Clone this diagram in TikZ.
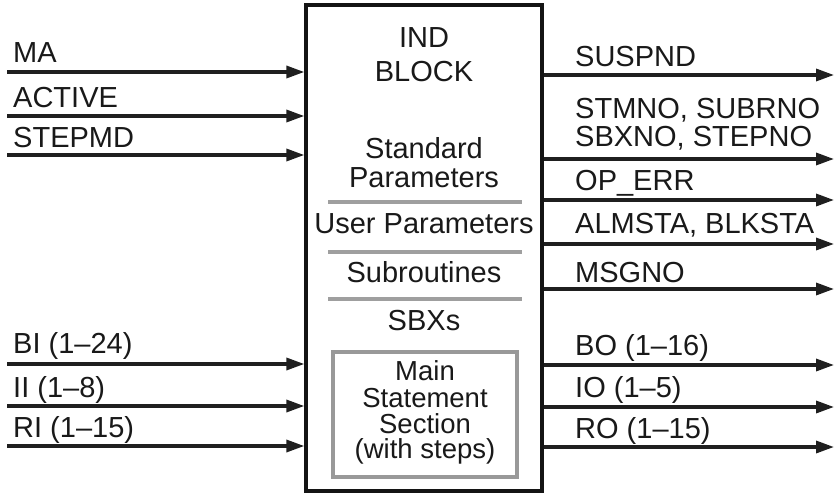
\documentclass[tikz,border=0pt]{standalone}
\usepackage{fontspec}
\setmainfont{Liberation Sans}
\usetikzlibrary{arrows.meta}
\begin{document}
\begin{tikzpicture}[x=1pt,y=-1pt,
  txt/.style={font=\fontsize{29}{31}\selectfont, inner sep=0pt, text=black!90},
  lbl/.style={txt, anchor=base west},
  ctr/.style={txt, anchor=base},
  stack/.style={ctr, font=\fontsize{27.5}{29}\selectfont},
  arr/.style={line width=3.3pt, draw=black!88, -{Triangle[length=18pt,width=12pt]}},
  divider/.style={line width=3.5pt, draw=gray!75},
  blockbox/.style={draw=black!92, line width=3.3pt, minimum width=236pt, minimum height=486pt, inner sep=0pt},
  innerbox/.style={draw=gray!80, line width=4pt, minimum width=184pt, minimum height=125pt, inner sep=0pt}]
\useasboundingbox (0,0) rectangle (834,497);
\fill[white] (0,0) rectangle (834,497);
% main block
\node[blockbox] (blk) at (424,248) {};
\node[innerbox] (inner) at (425,414.5) {};
% block texts
\node[ctr] (t1) at (424,48) {IND};
\node[ctr] (t2) at (424,82) {BLOCK};
\node[ctr] (t3) at (424,159) {Standard};
\node[ctr] (t4) at (424,187) {Parameters};
\node[ctr] (t5) at (424,233) {User Parameters};
\node[ctr] (t6) at (424,282) {Subroutines};
\node[ctr] (t7) at (424,330) {SBXs};
\node[stack] (t8) at (425,380) {Main};
\node[stack] (t9) at (425,407) {Statement};
\node[stack] (t10) at (425,433) {Section};
\node[stack] (t11) at (425,458) {(with steps)};
% dividers
\coordinate (d1a) at (328,202); \coordinate (d1b) at (522,202);
\coordinate (d2a) at (328,252); \coordinate (d2b) at (522,252);
\coordinate (d3a) at (328,299); \coordinate (d3b) at (522,299);
\draw[divider] (d1a) -- (d1b);
\draw[divider] (d2a) -- (d2b);
\draw[divider] (d3a) -- (d3b);
% input labels
\node[lbl] (ma) at (13,63) {MA};
\node[lbl] (active) at (13,108) {ACTIVE};
\node[lbl] (stepmd) at (13,148) {STEPMD};
\node[lbl] (bi) at (13,353) {BI (1–24)};
\node[lbl] (ii) at (13,397) {II (1–8)};
\node[lbl] (ri) at (13,437) {RI (1–15)};
% input arrows
\coordinate (ima) at (7,72);
\coordinate (iact) at (7,116);
\coordinate (istep) at (7,155);
\coordinate (ibi) at (7,364);
\coordinate (iii) at (7,406);
\coordinate (iri) at (7,446);
\foreach \c in {ima,iact,istep,ibi,iii,iri}
  \draw[arr] (\c) -- (\c -| blk.west);
% output labels
\node[lbl] (suspnd) at (575,67) {SUSPND};
\node[lbl] (stmno) at (575,119) {STMNO, SUBRNO};
\node[lbl] (sbxno) at (575,147) {SBXNO, STEPNO};
\node[lbl] (operr) at (575,190) {OP\_ERR};
\node[lbl] (almsta) at (575,233) {ALMSTA, BLKSTA};
\node[lbl] (msgno) at (575,282) {MSGNO};
\node[lbl] (bo) at (575,355) {BO (1–16)};
\node[lbl] (io) at (575,397) {IO (1–5)};
\node[lbl] (ro) at (575,438) {RO (1–15)};
% output arrows
\coordinate (osus) at (834,75);
\coordinate (ostm) at (834,159);
\coordinate (oop) at (834,200);
\coordinate (oalm) at (834,244);
\coordinate (omsg) at (834,289);
\coordinate (obo) at (834,365);
\coordinate (oio) at (834,407);
\coordinate (oro) at (834,447);
\foreach \c in {osus,ostm,oop,oalm,omsg,obo,oio,oro}
  \draw[arr] (\c -| blk.east) -- (\c);
\end{tikzpicture}
\end{document}
